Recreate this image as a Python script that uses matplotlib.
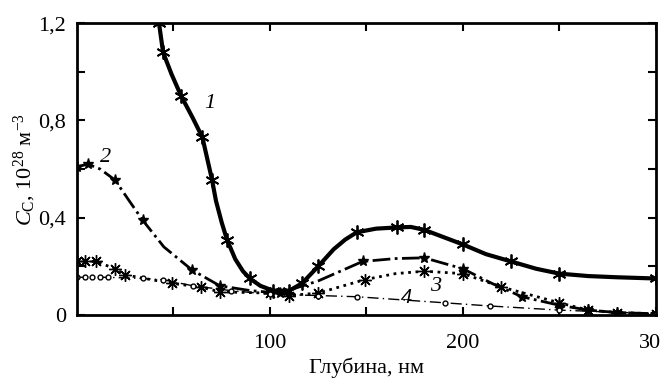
import matplotlib.pyplot as plt
from matplotlib.ticker import MultipleLocator, FixedLocator, FuncFormatter

plt.rcParams['font.family'] = ['Liberation Serif', 'DejaVu Serif']
plt.rcParams['mathtext.fontset'] = 'custom'
plt.rcParams['mathtext.rm'] = 'Liberation Serif'
plt.rcParams['mathtext.it'] = 'Liberation Serif:italic'

# кривая 1
x1 = [42.5, 44.6, 49, 54, 60, 65, 70, 72, 75, 77.7, 82, 86, 89.6, 95, 101.6, 110, 116.6, 125, 133, 139,
      145, 155, 165.8, 173, 180, 190, 200, 212, 225, 238, 250, 265, 280, 300]
y1 = [1.20, 1.08, 0.99, 0.90, 0.81, 0.73, 0.555, 0.47, 0.38, 0.31, 0.23, 0.18, 0.15, 0.12, 0.10, 0.10, 0.13, 0.20, 0.27, 0.31,
      0.34, 0.355, 0.36, 0.362, 0.35, 0.32, 0.29, 0.25, 0.22, 0.19, 0.17, 0.16, 0.155, 0.15]
m1 = [0, 1, 3, 5, 6, 9, 12, 14, 15, 16, 17, 20, 22, 24, 26, 28, 30, 33]
# кривая 2
x2 = [0, 5.7, 12, 19.7, 27, 34, 45, 59.6, 74, 90, 105, 125, 148, 165, 180, 200, 215, 230.6, 250, 265, 280, 300]
y2 = [0.61, 0.62, 0.60, 0.555, 0.47, 0.39, 0.28, 0.185, 0.12, 0.10, 0.09, 0.14, 0.22, 0.232, 0.235, 0.19, 0.13, 0.075, 0.04, 0.02, 0.01, 0.005]
m2 = [0, 1, 3, 5, 7, 8, 10, 12, 14, 15, 17, 18, 19, 20, 21]
# кривая 3
x3 = [0, 4, 10, 19.7, 25, 49, 64, 74, 100, 110, 125, 149, 165, 180, 200, 220, 250, 265, 280, 300]
y3 = [0.22, 0.22, 0.22, 0.19, 0.165, 0.13, 0.115, 0.095, 0.09, 0.08, 0.09, 0.145, 0.17, 0.18, 0.17, 0.115, 0.05, 0.02, 0.01, 0.005]
m3 = [0, 1, 2, 3, 4, 5, 6, 7, 8, 9, 10, 11, 13, 14, 15, 16, 17, 18, 19]
# кривая 4
x4 = [0, 4, 8, 12, 16, 34, 44.6, 60, 80, 100, 125, 145, 190.6, 214, 250, 300]
y4 = [0.155, 0.155, 0.155, 0.155, 0.155, 0.15, 0.145, 0.12, 0.10, 0.085, 0.08, 0.075, 0.05, 0.037, 0.02, 0.005]

fig = plt.figure(figsize=(6.6, 3.86), dpi=100)
ax = fig.add_axes([0.1167, 0.184, 0.877, 0.756])

ax.plot(x1, y1, color='black', lw=3, marker=(6, 2, 0), ms=10, mew=1.3, markevery=m1)
ax.plot(x2, y2, color='black', lw=2, ls='-.', marker='*', ms=8, markevery=m2)
ax.plot(x3, y3, color='black', lw=2, ls=':', marker=(8, 2, 0), ms=9, mew=1.0, markevery=m3)
ax.plot(x4, y4, color='black', lw=1, dashes=(8, 3, 1, 3), marker='o', ms=3.5, mfc='white', mew=1.0)

tf = dict(fontsize=16, style='italic')
ax.text(66, 0.85, '1', **tf)
ax.text(12, 0.63, '2', **tf)
ax.text(183, 0.10, '3', **tf)
ax.text(168, 0.05, '4', **tf)

ax.set_xlim(0, 300)
ax.set_ylim(0, 1.2)
ax.xaxis.set_major_locator(FixedLocator([100, 200, 300]))
ax.xaxis.set_minor_locator(FixedLocator([50, 150, 250]))
ax.yaxis.set_major_locator(MultipleLocator(0.4))
ax.yaxis.set_minor_locator(MultipleLocator(0.2))
ax.yaxis.set_major_formatter(FuncFormatter(lambda v, p: '0' if abs(v) < 1e-9 else f'{v:.1f}'.replace('.', ',')))

ax.tick_params(which='both', direction='in', top=True, right=True, width=1.5, labelsize=16)
ax.tick_params(which='major', length=6, pad=8)
ax.tick_params(axis='x', which='major', pad=14)
ax.tick_params(which='minor', length=6)
for s in ax.spines.values():
    s.set_linewidth(2)

ax.set_xlabel('Глубина, нм', fontsize=16, labelpad=3)
ax.set_ylabel(r'$C_\mathrm{C}$, 10$^{28}$ м$^{-3}$', fontsize=16, labelpad=0)

fig.savefig('out.png', dpi=100)
